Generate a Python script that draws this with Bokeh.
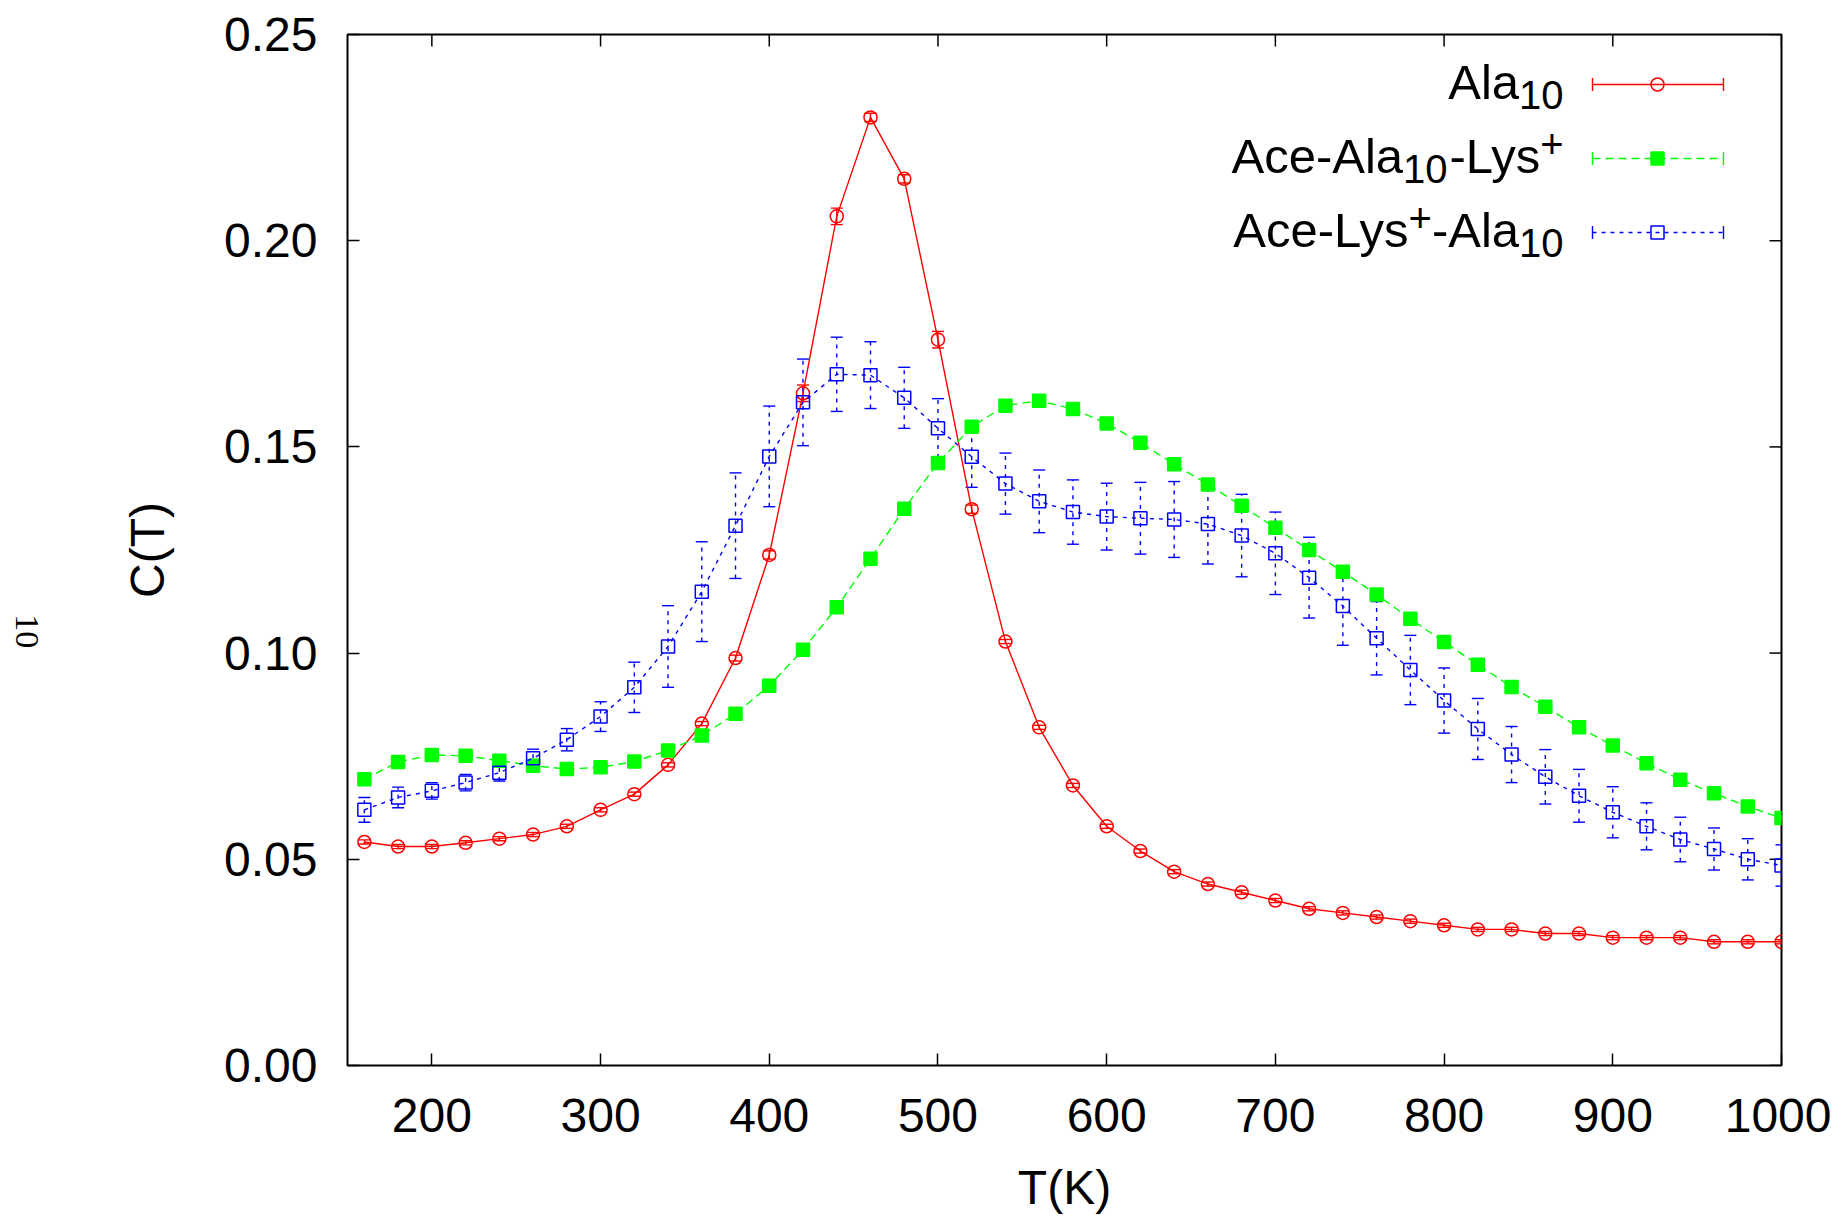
import numpy as np
from bokeh.plotting import figure
from bokeh.layouts import row
from bokeh.models import (FixedTicker, NumeralTickFormatter, Whisker,
                          TeeHead, ColumnDataSource, Range1d)
from bokeh.embed import file_html
from bokeh.resources import INLINE
from bokeh.core.properties import value

# ---------------- data ----------------
T = [160, 180, 200, 220, 240, 260, 280, 300, 320, 340, 360, 380, 400, 420, 440,
     460, 480, 500, 520, 540, 560, 580, 600, 620, 640, 660, 680, 700, 720, 740,
     760, 780, 800, 820, 840, 860, 880, 900, 920, 940, 960, 980, 1000]

ala10 = [0.0542, 0.0531, 0.0531, 0.0540, 0.0550, 0.0560, 0.0580, 0.0620, 0.0658, 0.0729,
         0.0829, 0.0988, 0.1238, 0.1630, 0.2059, 0.2299, 0.2150, 0.1760, 0.1349, 0.1028,
         0.0820, 0.0679, 0.0580, 0.0520, 0.0470, 0.0440, 0.0420, 0.0400, 0.0380, 0.0370,
         0.0360, 0.0350, 0.0340, 0.0330, 0.0330, 0.0320, 0.0320, 0.0310, 0.0310, 0.0310,
         0.0300, 0.0300, 0.0300]
ala10_err = [0.0005, 0.0005, 0.0005, 0.0005, 0.0005, 0.0005, 0.0005, 0.0005, 0.0005, 0.0005,
             0.0005, 0.0007, 0.0010, 0.0020, 0.0020, 0.0010, 0.0010, 0.0020, 0.0010, 0.0005,
             0.0005, 0.0005, 0.0005, 0.0005, 0.0005, 0.0005, 0.0005, 0.0005, 0.0005, 0.0005,
             0.0005, 0.0005, 0.0005, 0.0005, 0.0005, 0.0005, 0.0005, 0.0005, 0.0005, 0.0005,
             0.0005, 0.0005, 0.0005]

ace_ala_lys = [0.0694, 0.0736, 0.0753, 0.0751, 0.0739, 0.0727, 0.0719, 0.0723, 0.0737, 0.0764,
               0.0800, 0.0853, 0.0921, 0.1008, 0.1111, 0.1229, 0.1350, 0.1461, 0.1549, 0.1600,
               0.1612, 0.1592, 0.1557, 0.1510, 0.1458, 0.1409, 0.1357, 0.1304, 0.1250, 0.1197,
               0.1142, 0.1083, 0.1027, 0.0972, 0.0918, 0.0870, 0.0820, 0.0776, 0.0733, 0.0693,
               0.0660, 0.0628, 0.0600]
ace_ala_lys_err = [0.0005, 0.0005, 0.0005, 0.0005, 0.0005, 0.0005, 0.0005, 0.0005, 0.0005, 0.0005,
                   0.0005, 0.0005, 0.0005, 0.0006, 0.0008, 0.0010, 0.0010, 0.0010, 0.0008, 0.0006,
                   0.0005, 0.0005, 0.0005, 0.0005, 0.0005, 0.0005, 0.0005, 0.0005, 0.0005, 0.0005,
                   0.0005, 0.0005, 0.0005, 0.0005, 0.0005, 0.0005, 0.0005, 0.0005, 0.0005, 0.0005,
                   0.0005, 0.0005, 0.0005]

ace_lys_ala = [0.0620, 0.0650, 0.0666, 0.0686, 0.0710, 0.0745, 0.0790, 0.0846, 0.0917, 0.1016,
               0.1149, 0.1309, 0.1477, 0.1608, 0.1676, 0.1674, 0.1619, 0.1545, 0.1476, 0.1411,
               0.1368, 0.1342, 0.1331, 0.1327, 0.1324, 0.1313, 0.1285, 0.1242, 0.1183, 0.1114,
               0.1036, 0.0959, 0.0885, 0.0816, 0.0754, 0.0700, 0.0654, 0.0614, 0.0580, 0.0548,
               0.0525, 0.0500, 0.0485]
ace_lys_ala_err = [0.0030, 0.0025, 0.0020, 0.0020, 0.0020, 0.0022, 0.0027, 0.0036, 0.0061, 0.0099,
                   0.0121, 0.0128, 0.0122, 0.0105, 0.0090, 0.0081, 0.0074, 0.0072, 0.0074, 0.0074,
                   0.0076, 0.0078, 0.0081, 0.0087, 0.0092, 0.0097, 0.0100, 0.0100, 0.0098, 0.0095,
                   0.0089, 0.0084, 0.0079, 0.0074, 0.0068, 0.0066, 0.0064, 0.0062, 0.0057, 0.0054,
                   0.0051, 0.0050, 0.0050]

x_ticks = [200, 300, 400, 500, 600, 700, 800, 900, 1000]
y_ticks = [0.00, 0.05, 0.10, 0.15, 0.20, 0.25]
x_range = (150, 1000)
y_range = (0.0, 0.25)

# ---------------- layout ----------------
FW, FH = 1434, 1031
FONT = "Liberation Sans"
TICK = 12
SIDE_W, TOTAL_H = 60, 1204

p = figure(frame_width=FW, frame_height=FH,
           min_border_left=347 - SIDE_W, min_border_right=50, min_border_top=34,
           min_border_bottom=TOTAL_H - 34 - FH,
           x_range=Range1d(*x_range), y_range=Range1d(*y_range),
           output_backend="svg", toolbar_location=None,
           x_axis_label="T(K)", y_axis_label="C(T)")
p.grid.visible = False
p.background_fill_color = "white"
p.border_fill_color = "white"
p.outline_line_color = "black"
p.outline_line_width = 2

for ax in (p.xaxis[0], p.yaxis[0]):
    ax.axis_line_color = None
    ax.major_tick_in = TICK
    ax.major_tick_out = 0
    ax.minor_tick_in = 0
    ax.minor_tick_out = 0
    ax.major_tick_line_color = "black"
    ax.major_tick_line_width = 1.5
    ax.major_label_text_font = FONT
    ax.major_label_text_font_size = "48px"
    ax.major_label_text_color = "black"
    ax.axis_label_text_font = FONT
    ax.axis_label_text_font_size = "48px"
    ax.axis_label_text_font_style = "normal"
    ax.axis_label_text_color = "black"

p.xaxis.ticker = FixedTicker(ticks=x_ticks)
p.yaxis.ticker = FixedTicker(ticks=y_ticks)
p.yaxis.formatter = NumeralTickFormatter(format="0.00")
p.xaxis.major_label_standoff = 33
p.xaxis.axis_label_standoff = 26
p.yaxis.major_label_standoff = 30
p.yaxis.axis_label_standoff = 47

def fx(px):
    return x_range[0] + px * (x_range[1] - x_range[0]) / FW

def fy(py):
    return y_range[1] - py * (y_range[1] - y_range[0]) / FH

# mirror (inward) ticks on the top and right edges
dx = fx(TICK) - x_range[0]
dy = y_range[1] - fy(TICK)
p.segment(x0=x_ticks, y0=[y_range[1]] * len(x_ticks), x1=x_ticks,
          y1=[y_range[1] - dy] * len(x_ticks), line_color="black", line_width=1.5)
p.segment(x0=[x_range[1]] * len(y_ticks), y0=y_ticks, x1=[x_range[1] - dx] * len(y_ticks),
          y1=y_ticks, line_color="black", line_width=1.5)

RED, GREEN, BLUE = "#ff0000", "#00ff00", "#0000ff"

def err_src(y, e):
    return ColumnDataSource(dict(T=T, y=y,
                                 lo=[a - b for a, b in zip(y, e)],
                                 hi=[a + b for a, b in zip(y, e)]))

series = [
    (ala10, ala10_err, RED, "solid", "circle", False),
    (ace_ala_lys, ace_ala_lys_err, GREEN, "8 5", "square", True),
    (ace_lys_ala, ace_lys_ala_err, BLUE, "4 5", "square", False),
]

for y, e, col, dash, marker, filled in series:
    src = err_src(y, e)
    p.line("T", "y", source=src, line_color=col, line_width=1.4, line_dash=dash)
    wk = Whisker(source=src, base="T", lower="lo", upper="hi", dimension="height",
                 line_color=col, line_width=1.4, line_dash=dash,
                 upper_head=TeeHead(size=12, line_color=col, line_width=1.4),
                 lower_head=TeeHead(size=12, line_color=col, line_width=1.4))
    p.add_layout(wk)
    p.scatter("T", "y", source=src, marker=marker, size=13,
              line_color=col, line_width=1.5,
              fill_color=col if filled else None)

# ---------------- legend (manual, with sub/superscripts) ----------------
W = {"A": 667, "c": 500, "e": 556, "-": 333, "l": 222, "a": 556, "L": 556,
     "y": 500, "s": 500, "1": 556, "0": 556, "+": 584}

def tw(s, size):
    return sum(W[ch] for ch in s) * size / 1000.0

BIG, SMALL = 49, 40
legend_rows = [
    ([("Ala", "n"), ("10", "sub")], RED, "solid", "circle", False),
    ([("Ace-Ala", "n"), ("10", "sub"), ("-Lys", "n"), ("+", "sup")], GREEN, "8 5", "square", True),
    ([("Ace-Lys", "n"), ("+", "sup"), ("-Ala", "n"), ("10", "sub")], BLUE, "4 5", "square", False),
]
row_y = [50, 124, 198]
text_right = 1216
samp_x0, samp_x1, samp_xm = 1245, 1376, 1310

for (pieces, col, dash, marker, filled), ry in zip(legend_rows, row_y):
    base = ry - 3
    xr = text_right
    for s, kind in reversed(pieces):
        size = BIG if kind == "n" else SMALL
        yb = base + (13 if kind == "sub" else (-12 if kind == "sup" else 0))
        p.text(x=[fx(xr)], y=[fy(yb)], text=[s], text_font=value(FONT),
               text_font_size=f"{size}px", text_align="right",
               text_baseline="alphabetic", text_color="black")
        xr -= tw(s, size)
    p.segment(x0=[fx(samp_x0)], y0=[fy(ry)], x1=[fx(samp_x1)], y1=[fy(ry)],
              line_color=col, line_width=1.4, line_dash=dash)
    p.segment(x0=[fx(samp_x0), fx(samp_x1)], y0=[fy(ry - 6.5)] * 2,
              x1=[fx(samp_x0), fx(samp_x1)], y1=[fy(ry + 6.5)] * 2,
              line_color=col, line_width=1.4)
    p.scatter(x=[fx(samp_xm)], y=[fy(ry)], marker=marker, size=13,
              line_color=col, line_width=1.5, fill_color=col if filled else None)

# ---------------- narrow strip at far left with the rotated "10" ----------------
side = figure(width=SIDE_W, height=TOTAL_H, x_range=Range1d(0, SIDE_W),
              y_range=Range1d(0, TOTAL_H), min_border=0,
              x_axis_location=None, y_axis_location=None,
              output_backend="svg", toolbar_location=None)
side.grid.visible = False
side.outline_line_color = None
side.background_fill_color = "white"
side.border_fill_color = "white"
side.text(x=[26], y=[TOTAL_H - 705], text=["10"], angle=-np.pi / 2,
          text_font=value("Liberation Serif"), text_font_size="34px",
          text_align="center", text_baseline="middle", text_color="black")

layout = row(side, p, spacing=0)
open("out.html", "w").write(file_html(layout, INLINE))
